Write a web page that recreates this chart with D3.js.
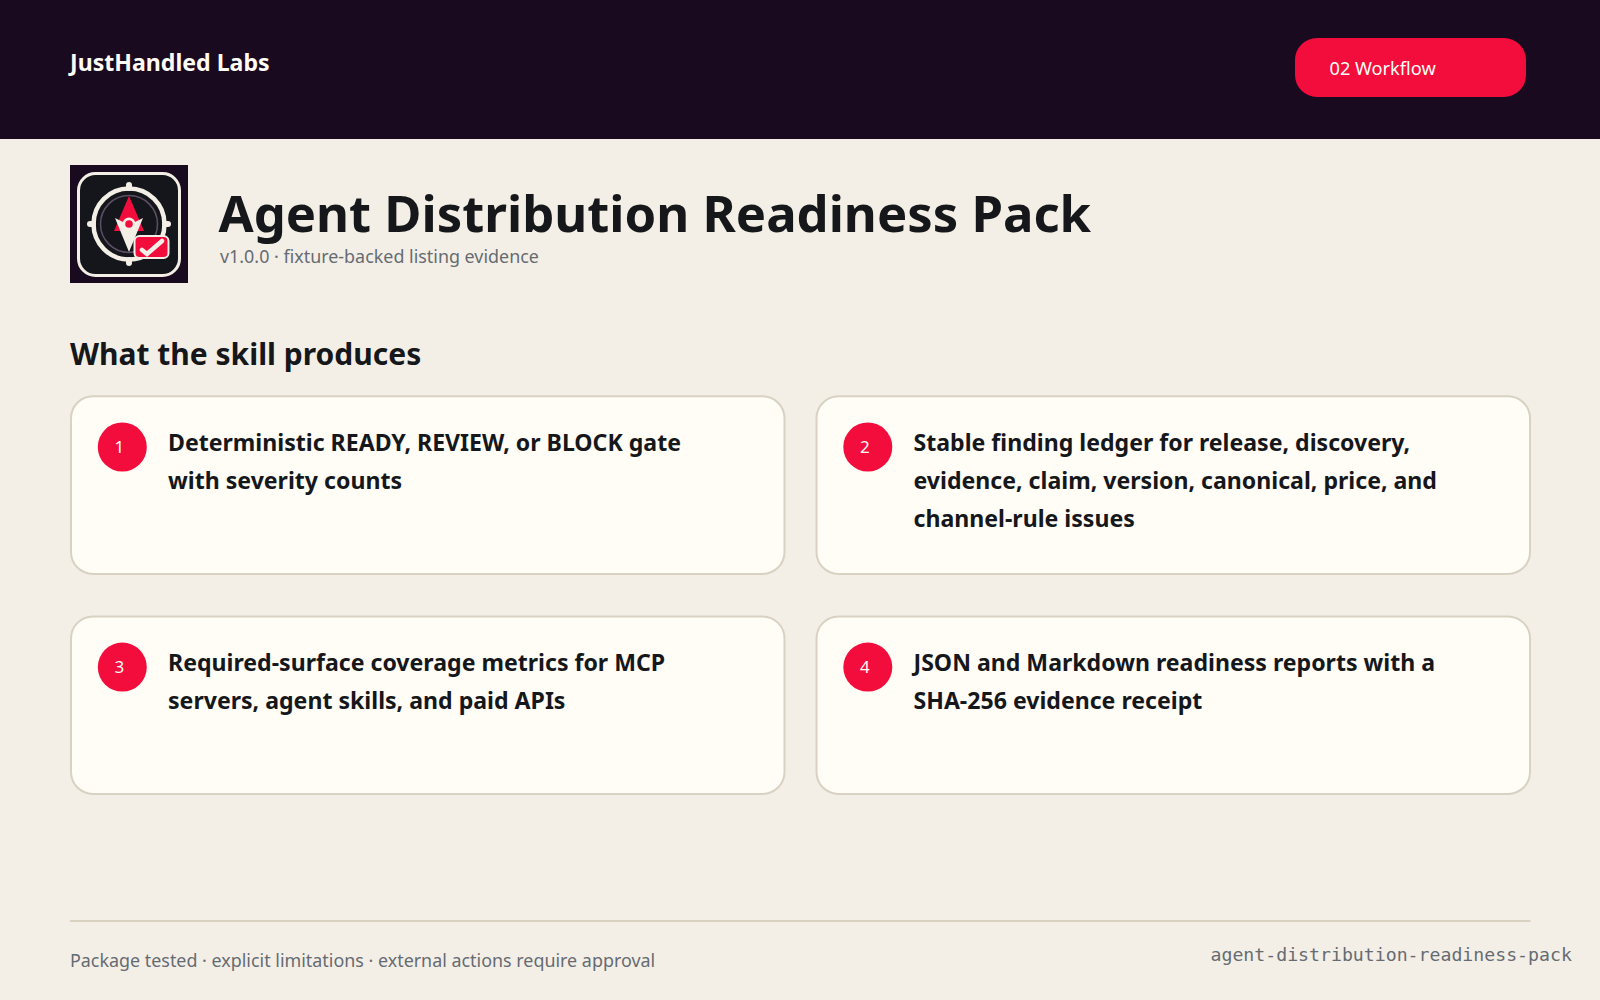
<!DOCTYPE html>
<html>
<head>
<meta charset="utf-8">
<script src="https://cdn.jsdelivr.net/npm/d3@7"></script>
<style>
html, body { margin: 0; padding: 0; background: #f3efe7; }
svg { display: block; }
text { font-family: "Noto Sans", sans-serif; }
</style>
</head>
<body>
<svg id="slide" width="1600" height="1000"></svg>
<script>
const brand = 'JustHandled Labs';
const sectionTag = '02 Workflow';
const title = 'Agent Distribution Readiness Pack';
const subtitle = 'v1.0.0 · fixture-backed listing evidence';
const heading = 'What the skill produces';
const cardNumbers = ['1', '2', '3', '4'];
const cardLines = [
    ['Deterministic READY, REVIEW, or BLOCK gate', 'with severity counts'],
    ['Stable finding ledger for release, discovery,', 'evidence, claim, version, canonical, price, and', 'channel-rule issues'],
    ['Required-surface coverage metrics for MCP', 'servers, agent skills, and paid APIs'],
    ['JSON and Markdown readiness reports with a', 'SHA-256 evidence receipt']
];
const footerLeft = 'Package tested · explicit limitations · external actions require approval';
const footerRight = 'agent-distribution-readiness-pack';

const dark = '#1a0a1f', red = '#f30d3c', cream = '#f3efe7', ink = '#15171a', gray = '#666b72';
const svg = d3.select('#slide');

function label(parent, x, y, str, size, weight, fill) {
    return parent.append('text')
        .attr('x', x).attr('y', y)
        .attr('font-size', size)
        .attr('font-weight', weight)
        .attr('fill', fill)
        .text(str);
}

// header band
svg.append('rect').attr('width', 1600).attr('height', 1000).attr('fill', cream);
svg.append('rect').attr('width', 1600).attr('height', 139).attr('fill', dark);
label(svg, 70, 71, brand, 23.1, 700, '#fffdf6');
svg.append('rect').attr('x', 1295).attr('y', 38).attr('width', 231).attr('height', 59).attr('rx', 22).attr('fill', red);
label(svg, 1329.5, 75, sectionTag, 18.2, 400, '#fffdf6');

// logo
const logo = svg.append('g').attr('transform', 'translate(70,165)');
logo.append('rect').attr('width', 118).attr('height', 118).attr('fill', dark);
logo.append('rect').attr('x', 8.5).attr('y', 8.5).attr('width', 101).attr('height', 102).attr('rx', 17)
    .attr('fill', '#15161b').attr('stroke', cream).attr('stroke-width', 3);
logo.append('circle').attr('cx', 59).attr('cy', 59).attr('r', 35.5)
    .attr('fill', 'none').attr('stroke', cream).attr('stroke-width', 4.5);
logo.append('circle').attr('cx', 59).attr('cy', 59).attr('r', 28.5)
    .attr('fill', 'none').attr('stroke', '#5d4f63').attr('stroke-width', 1.5);
[[59, 20, 59, 23], [59, 95, 59, 98], [20, 59, 23, 59], [95, 59, 98, 59]].forEach(t => {
    logo.append('line').attr('x1', t[0]).attr('y1', t[1]).attr('x2', t[2]).attr('y2', t[3])
        .attr('stroke', cream).attr('stroke-width', 6).attr('stroke-linecap', 'round');
});
logo.append('path').attr('d', 'M59 31 L74 66 L44 66 Z').attr('fill', red);
logo.append('path').attr('d', 'M45 53 L59 60 L73 53 L59 87 Z').attr('fill', cream);
logo.append('circle').attr('cx', 59).attr('cy', 59).attr('r', 6.5).attr('fill', cream);
logo.append('circle').attr('cx', 59).attr('cy', 59).attr('r', 3.8).attr('fill', red);
logo.append('rect').attr('x', 64.5).attr('y', 71).attr('width', 34).attr('height', 22).attr('rx', 5)
    .attr('fill', red).attr('stroke', cream).attr('stroke-width', 2);
logo.append('path').attr('d', 'M72 85 L77 89 L92 76').attr('fill', 'none')
    .attr('stroke', cream).attr('stroke-width', 4.5).attr('stroke-linecap', 'round');

// title block
label(svg, 218.5, 232, title, 50.8, 700, ink);
label(svg, 220, 263, subtitle, 17.9, 400, gray);
label(svg, 70, 365, heading, 30, 700, ink);

// cards
const colX = d3.scaleBand().domain([0, 1]).range([70, 1531]).paddingInner(30 / 745.5).paddingOuter(0);
const rowY = d3.scaleBand().domain([0, 1]).range([395.3, 795]).paddingInner(40.5 / 220).paddingOuter(0);

const cards = svg.selectAll('g.card')
    .data(cardLines)
    .join('g')
    .attr('class', 'card')
    .attr('transform', (d, i) => `translate(${colX(i % 2)},${rowY(Math.floor(i / 2))})`);

cards.append('rect')
    .attr('x', 1).attr('y', 1)
    .attr('width', colX.bandwidth() - 2).attr('height', rowY.bandwidth() - 2).attr('rx', 22)
    .attr('fill', '#fffdf6')
    .attr('stroke', '#d9d2c3')
    .attr('stroke-width', 2);
cards.append('circle')
    .attr('cx', 52.3).attr('cy', 51.7).attr('r', 24.5)
    .attr('fill', red);
cards.append('text')
    .attr('x', 44.5).attr('y', 57.5)
    .attr('font-size', 17)
    .attr('fill', '#fffdf6')
    .text((d, i) => cardNumbers[i]);
cards.selectAll('text.line')
    .data(d => d)
    .join('text')
    .attr('class', 'line')
    .attr('x', 98)
    .attr('y', (d, i) => 55.7 + i * 38)
    .attr('font-size', 23.1)
    .attr('font-weight', 700)
    .attr('fill', ink)
    .text(d => d);

// footer
svg.append('line').attr('x1', 70).attr('x2', 1530.5).attr('y1', 921).attr('y2', 921)
    .attr('stroke', '#d9d2c3').attr('stroke-width', 2);
label(svg, 70, 967, footerLeft, 17.9, 400, gray);
label(svg, 1210.5, 961, footerRight, 18.2, 400, gray).style('font-family', '"DejaVu Sans Mono", monospace');
</script>
</body>
</html>
